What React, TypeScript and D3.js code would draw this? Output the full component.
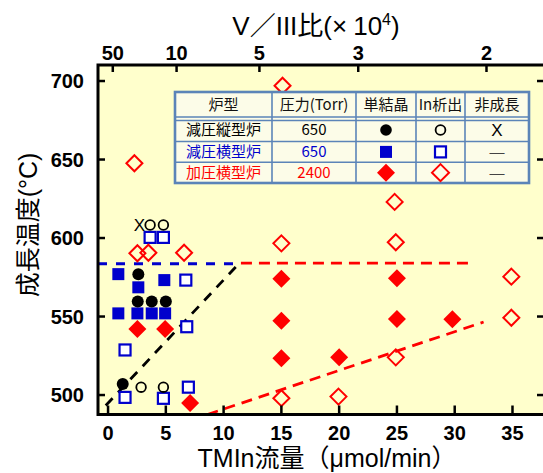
import React from "react";
import * as d3 from "d3";

const W = 543;
const H = 473;
const frame = { left: 98, top: 65, right: 546, bottom: 414.5 };

// axes
const xTicks = [0, 5, 10, 15, 20, 25, 30, 35];
const yTicks = [500, 550, 600, 650, 700];
// top axis: V/III ratio (x10^4) label and the TMIn flow where it sits
const topTickLabels = ["50", "10", "5", "3", "2"];
const topTickFlows = [0.41, 5.93, 13.1, 21.65, 32.75];

// 減圧縦型炉 [TMIn流量, 成長温度]
const verticalSingle = [[2.62, 577], [2.57, 559.5], [3.78, 559.5], [5.0, 559.5], [1.27, 507]];
const verticalInDep = [[3.64, 608.3], [4.79, 608.3], [2.86, 505], [4.79, 505]];
const verticalNoGrowth = [[2.71, 608.3]];
// 減圧横型炉
const horizSingle = [[0.89, 577], [2.62, 568.6], [4.87, 573.2], [0.89, 552], [2.54, 552], [3.78, 552], [4.94, 552]];
const horizInDep = [[3.64, 600.4], [4.79, 600.4], [6.73, 573.2], [6.81, 543.5], [1.47, 528.7], [1.47, 498.5], [4.79, 497.9], [6.95, 505]];
// 加圧横型炉
const pressSingle = [[2.54, 542], [4.94, 542], [7.1, 495], [15, 574], [15, 547.3], [15, 523.4], [20, 524], [25, 574.3], [25, 548.4], [29.8, 548.2]];
const pressInDep = [[2.28, 647.6], [2.54, 590.3], [3.49, 590.6], [6.58, 590.6], [15.1, 697], [24.8, 623], [15, 596.6], [24.9, 597.3], [34.9, 575.4], [34.9, 549.2], [24.9, 524], [15, 498], [19.94, 499]];

// 境界線
const blueBoundary = [[-0.87, 583.6], [11.5, 583.6]];
const redBoundaryH = [[11.5, 584], [31.5, 584]];
const blackBoundary = [[-0.2, 493.3], [11.3, 583.5]];
const redBoundaryD = [[8.6, 487.6], [32.5, 546.5]];

// 凡例テーブル
const tableHeaders = ["炉型", "圧力(Torr)", "単結晶", "In析出", "非成長"];
const furnaces = ["減圧縦型炉", "減圧横型炉", "加圧横型炉"];
const pressures = ["650", "650", "2400"];
const noGrowthMarks = ["X", "—", "—"];

const BLUE = "#0000cc";
const RED = "#ff0000";
const rowColors = ["#000", BLUE, RED];
const LINE = "#5b84b8";

const tickFont = "'Liberation Sans', Arial, sans-serif";
const jpFont = "'Liberation Sans', 'Noto Sans CJK JP', sans-serif";
const tableFont = "'Noto Sans CJK JP', sans-serif";

const diamond = (h: number) => `M0,${-h}L${h},0L0,${h}L${-h},0Z`;

export default function App() {
  const x = d3.scaleLinear().domain([-0.87, 37.9]).range([frame.left, frame.right]);
  const y = d3.scaleLinear().domain([487.6, 710.2]).range([frame.bottom, frame.top]);
  const line = d3.line<number[]>().x((d) => x(d[0])).y((d) => y(d[1]));

  const colX = [175, 272, 356, 416, 465, 529];
  const rowY = [92, 118.5, 141.5, 162.3, 183];
  const colC = colX.slice(0, -1).map((c, i) => (c + colX[i + 1]) / 2);
  const rowC = rowY.slice(1, -1).map((r, i) => (r + rowY[i + 2]) / 2);

  return (
    <svg width={W} height={H} style={{ position: "absolute", left: 0, top: 0, background: "#fff" }}>
      <rect x={frame.left} y={frame.top} width={frame.right - frame.left} height={frame.bottom - frame.top} fill="#ffffcc" />

      {/* 境界線 */}
      <path d={line(blueBoundary) || ""} stroke={BLUE} strokeWidth={2.8} strokeDasharray="9,9" fill="none" />
      <path d={line(redBoundaryH) || ""} stroke={RED} strokeWidth={2.8} strokeDasharray="11,7" fill="none" />
      <path d={line(blackBoundary) || ""} stroke="#000" strokeWidth={2.8} strokeDasharray="10,8" fill="none" />
      <path d={line(redBoundaryD) || ""} stroke={RED} strokeWidth={2.8} strokeDasharray="11,7" fill="none" />

      {/* data */}
      {horizInDep.map((d, i) => (
        <rect key={"hi" + i} x={x(d[0]) - 5.5} y={y(d[1]) - 5.5} width={11} height={11} fill="#fff" stroke={BLUE} strokeWidth={2.2} />
      ))}
      {horizSingle.map((d, i) => (
        <rect key={"hs" + i} x={x(d[0]) - 6} y={y(d[1]) - 6} width={12} height={12} fill={BLUE} />
      ))}
      {verticalInDep.map((d, i) => (
        <circle key={"vi" + i} cx={x(d[0])} cy={y(d[1])} r={4.8} fill="none" stroke="#000" strokeWidth={1.8} />
      ))}
      {verticalSingle.map((d, i) => (
        <circle key={"vs" + i} cx={x(d[0])} cy={y(d[1])} r={6} fill="#000" />
      ))}
      {verticalNoGrowth.map((d, i) => (
        <text key={"vn" + i} x={x(d[0])} y={y(d[1])} dy="0.36em" textAnchor="middle" fontFamily={tickFont} fontSize={17}>X</text>
      ))}
      {pressInDep.map((d, i) => (
        <path key={"pi" + i} transform={`translate(${x(d[0])},${y(d[1])})`} d={diamond(8)} fill="none" stroke={RED} strokeWidth={2} />
      ))}
      {pressSingle.map((d, i) => (
        <path key={"ps" + i} transform={`translate(${x(d[0])},${y(d[1])})`} d={diamond(9)} fill={RED} />
      ))}

      {/* 凡例テーブル */}
      <g fontFamily={tableFont} fontSize={15}>
        <rect x={colX[0]} y={rowY[0]} width={colX[5] - colX[0]} height={rowY[4] - rowY[0]} fill="#fcfce8" />
        {colX.slice(1, -1).map((c, i) => (
          <line key={"c" + i} x1={c} x2={c} y1={rowY[0]} y2={rowY[4]} stroke={LINE} strokeWidth={1.6} />
        ))}
        <line x1={colX[0]} x2={colX[5]} y1={117} y2={117} stroke={LINE} strokeWidth={1.6} />
        <line x1={colX[0]} x2={colX[5]} y1={120.5} y2={120.5} stroke={LINE} strokeWidth={1.6} />
        {[rowY[2], rowY[3]].map((r, i) => (
          <line key={"r" + i} x1={colX[0]} x2={colX[5]} y1={r} y2={r} stroke={LINE} strokeWidth={1.6} />
        ))}
        <rect x={colX[0]} y={rowY[0]} width={colX[5] - colX[0]} height={rowY[4] - rowY[0]} fill="none" stroke={LINE} strokeWidth={2.6} />
        {tableHeaders.map((t, i) => (
          <text key={"h" + i} x={colC[i]} y={105} dy="0.36em" textAnchor="middle" fill="#111">{t}</text>
        ))}
        {furnaces.map((f, i) => (
          <g key={"f" + i} fill={rowColors[i]}>
            <text x={colC[0]} y={rowC[i]} dy="0.36em" textAnchor="middle">{f}</text>
            <text x={colC[1]} y={rowC[i]} dy="0.36em" textAnchor="middle">{pressures[i]}</text>
            <text x={colC[4]} y={rowC[i]} dy="0.36em" textAnchor="middle" fill={i === 0 ? "#000" : "#444"} fontFamily={tickFont} fontSize={i === 0 ? 17 : 15}>{noGrowthMarks[i]}</text>
          </g>
        ))}
        <circle cx={colC[2]} cy={rowC[0]} r={5.8} fill="#000" />
        <circle cx={colC[3]} cy={rowC[0]} r={4.9} fill="none" stroke="#000" strokeWidth={1.8} />
        <rect x={colC[2] - 6} y={rowC[1] - 6} width={12} height={12} fill={BLUE} />
        <rect x={colC[3] - 5.5} y={rowC[1] - 5.5} width={11} height={11} fill="#fff" stroke={BLUE} strokeWidth={2.2} />
        <path transform={`translate(${colC[2]},${rowC[2]})`} d={diamond(9)} fill={RED} />
        <path transform={`translate(${colC[3]},${rowC[2]})`} d={diamond(8.5)} fill="none" stroke={RED} strokeWidth={2} />
      </g>

      {/* 枠と目盛り */}
      <rect x={frame.left} y={frame.top} width={frame.right - frame.left} height={frame.bottom - frame.top} fill="none" stroke="#000" strokeWidth={3} />
      <g stroke="#000" strokeWidth={2.5}>
        {xTicks.map((t) => (
          <line key={"xt" + t} x1={x(t)} x2={x(t)} y1={frame.bottom} y2={frame.bottom - 9} />
        ))}
        {topTickFlows.map((f, i) => (
          <line key={"tt" + i} x1={x(f)} x2={x(f)} y1={frame.top} y2={frame.top + 7} />
        ))}
        {yTicks.map((t) => (
          <g key={"yt" + t}>
            <line x1={frame.left} x2={frame.left + 7} y1={y(t)} y2={y(t)} />
            <line x1={frame.right} x2={frame.right - 9} y1={y(t)} y2={y(t)} />
          </g>
        ))}
      </g>
      <g fontFamily={tickFont} fontWeight="bold" fontSize={20} fill="#000">
        {xTicks.map((t) => (
          <text key={"xl" + t} x={x(t)} y={440} textAnchor="middle">{t}</text>
        ))}
        {topTickLabels.map((t, i) => (
          <text key={"tl" + i} x={x(topTickFlows[i])} y={60} textAnchor="middle">{t}</text>
        ))}
        {yTicks.map((t) => (
          <text key={"yl" + t} x={84} y={y(t)} dy="0.36em" textAnchor="end">{t}</text>
        ))}
      </g>

      {/* 軸タイトル */}
      <text x={327} y={467} textAnchor="middle" fontFamily={jpFont} fontSize={25}>TMIn流量（μmol/min）</text>
      <text transform="translate(37,225) rotate(-90)" textAnchor="middle" fontFamily={jpFont} fontSize={25}>成長温度(°C)</text>
      <text x={316} y={35} textAnchor="middle" fontFamily={jpFont} fontSize={26}>
        V／III比(×<tspan dx={6}>10</tspan><tspan dy={-10} fontSize={16}>4</tspan><tspan dy={10}>)</tspan>
      </text>
    </svg>
  );
}
